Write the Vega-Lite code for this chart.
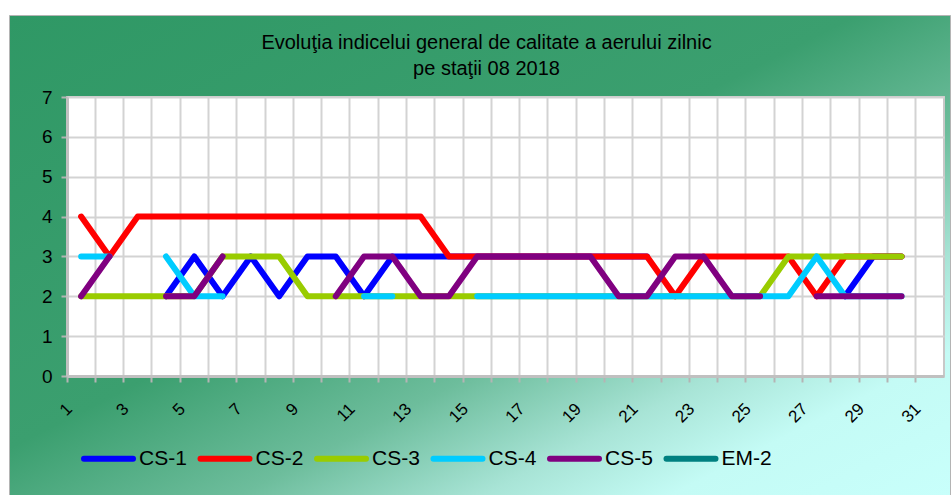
{
  "$schema": "https://vega.github.io/schema/vega-lite/v6.json",
  "background": "white",
  "padding": {"left": 8, "top": 14, "right": 0, "bottom": 0},
  "config": {"font": "Liberation Sans"},
  "datasets": {
    "aqi": [
      {"day": 1, "CS-1": null, "CS-2": 4, "CS-3": 2, "CS-4": 3, "CS-5": 2},
      {"day": 2, "CS-1": null, "CS-2": 3, "CS-3": 2, "CS-4": 3, "CS-5": 3},
      {"day": 3, "CS-1": null, "CS-2": 4, "CS-3": 2, "CS-4": null, "CS-5": null},
      {"day": 4, "CS-1": 2, "CS-2": 4, "CS-3": 2, "CS-4": 3, "CS-5": 2},
      {"day": 5, "CS-1": 3, "CS-2": 4, "CS-3": 2, "CS-4": 2, "CS-5": 2},
      {"day": 6, "CS-1": 2, "CS-2": 4, "CS-3": 3, "CS-4": 2, "CS-5": 3},
      {"day": 7, "CS-1": 3, "CS-2": 4, "CS-3": 3, "CS-4": null, "CS-5": null},
      {"day": 8, "CS-1": 2, "CS-2": 4, "CS-3": 3, "CS-4": null, "CS-5": null},
      {"day": 9, "CS-1": 3, "CS-2": 4, "CS-3": 2, "CS-4": null, "CS-5": null},
      {"day": 10, "CS-1": 3, "CS-2": 4, "CS-3": 2, "CS-4": null, "CS-5": 2},
      {"day": 11, "CS-1": 2, "CS-2": 4, "CS-3": 2, "CS-4": 2, "CS-5": 3},
      {"day": 12, "CS-1": 3, "CS-2": 4, "CS-3": 2, "CS-4": 2, "CS-5": 3},
      {"day": 13, "CS-1": 3, "CS-2": 4, "CS-3": 2, "CS-4": null, "CS-5": 2},
      {"day": 14, "CS-1": 3, "CS-2": 3, "CS-3": 2, "CS-4": null, "CS-5": 2},
      {"day": 15, "CS-1": 3, "CS-2": 3, "CS-3": 2, "CS-4": 2, "CS-5": 3},
      {"day": 16, "CS-1": 3, "CS-2": 3, "CS-3": 2, "CS-4": 2, "CS-5": 3},
      {"day": 17, "CS-1": 3, "CS-2": 3, "CS-3": 2, "CS-4": 2, "CS-5": 3},
      {"day": 18, "CS-1": 3, "CS-2": 3, "CS-3": 2, "CS-4": 2, "CS-5": 3},
      {"day": 19, "CS-1": 3, "CS-2": 3, "CS-3": 2, "CS-4": 2, "CS-5": 3},
      {"day": 20, "CS-1": 3, "CS-2": 3, "CS-3": 2, "CS-4": 2, "CS-5": 2},
      {"day": 21, "CS-1": 3, "CS-2": 3, "CS-3": 2, "CS-4": 2, "CS-5": 2},
      {"day": 22, "CS-1": null, "CS-2": 2, "CS-3": 2, "CS-4": 2, "CS-5": 3},
      {"day": 23, "CS-1": null, "CS-2": 3, "CS-3": 2, "CS-4": 2, "CS-5": 3},
      {"day": 24, "CS-1": null, "CS-2": 3, "CS-3": 2, "CS-4": 2, "CS-5": 2},
      {"day": 25, "CS-1": null, "CS-2": 3, "CS-3": 2, "CS-4": 2, "CS-5": 2},
      {"day": 26, "CS-1": null, "CS-2": 3, "CS-3": 3, "CS-4": 2, "CS-5": null},
      {"day": 27, "CS-1": null, "CS-2": 2, "CS-3": 3, "CS-4": 3, "CS-5": 2},
      {"day": 28, "CS-1": 2, "CS-2": 3, "CS-3": 3, "CS-4": 2, "CS-5": 2},
      {"day": 29, "CS-1": 3, "CS-2": 3, "CS-3": 3, "CS-4": 2, "CS-5": 2},
      {"day": 30, "CS-1": 3, "CS-2": 3, "CS-3": 3, "CS-4": 2, "CS-5": 2}
    ]
  },
  "columns": 1,
  "align": "none",
  "spacing": -465,
  "resolve": {"scale": {"color": "independent"}, "legend": {"color": "independent"}},
  "concat": [
    {
      "width": 941,
      "height": 481,
      "view": {
        "fill": {
          "gradient": "linear",
          "x1": 0, "y1": 0, "x2": 1, "y2": 1,
          "stops": [
            {"offset": 0, "color": "#2f9865"},
            {"offset": 0.45, "color": "#3b9f6f"},
            {"offset": 0.62, "color": "#6dbd9c"},
            {"offset": 0.75, "color": "#a8e4d6"},
            {"offset": 0.85, "color": "#c4fbf5"},
            {"offset": 1, "color": "#c8fffb"}
          ]
        },
        "stroke": "#b4b4b4",
        "strokeWidth": 1
      },
      "data": {"values": [{"blank": ""}]},
      "mark": {"type": "text", "text": ""}
    },
    {
      "columns": 2,
      "align": "none",
      "spacing": 30,
      "resolve": {"scale": {"color": "independent"}, "legend": {"color": "independent"}},
      "concat": [
        {
          "width": 1,
          "height": 1,
          "view": {"fill": null, "stroke": null},
          "data": {"values": [{"blank": ""}]},
          "mark": {"type": "text", "text": ""}
        },
        {
          "width": 877,
          "height": 279,
          "title": {
            "text": ["Evoluţia indicelui general de calitate a aerului zilnic", "pe staţii 08 2018"],
            "fontSize": 20,
            "fontWeight": "normal",
            "color": "#000000",
            "lineHeight": 26,
            "offset": 9,
            "dx": -19,
            "anchor": "middle"
          },
          "view": {"fill": "white", "stroke": "#c8c8c8", "strokeWidth": 2},
          "data": {"name": "aqi"},
          "transform": [{"fold": ["CS-1", "CS-2", "CS-3", "CS-4", "CS-5"], "as": ["station", "v"]}],
          "mark": {"type": "line", "strokeWidth": 6, "strokeCap": "round", "strokeJoin": "round", "invalid": "break-paths-show-domains"},
          "encoding": {
            "x": {
              "field": "day",
              "type": "ordinal",
              "scale": {"type": "band", "domain": [1,2,3,4,5,6,7,8,9,10,11,12,13,14,15,16,17,18,19,20,21,22,23,24,25,26,27,28,29,30,31], "paddingInner": 0, "paddingOuter": 0},
              "axis": {
                "title": null,
                "bandPosition": 0,
                "labelExpr": "datum.value % 2 == 1 ? datum.label : ''",
                "labelAngle": -45,
                "labelAlign": "right",
                "labelBaseline": "middle",
                "labelPadding": 24,
                "labelOffset": -11.6,
                "labelFontSize": 17,
                "labelColor": "#000000",
                "labelOverlap": false,
                "labelBound": false,
                "grid": true,
                "gridColor": "#d3d3d3",
                "gridWidth": 2,
                "domainColor": "#c0c0c0",
                "domainWidth": 3,
                "tickColor": "#b4b4b4",
                "tickSize": 6,
                "tickWidth": 2
              }
            },
            "y": {
              "field": "v",
              "type": "quantitative",
              "scale": {"domain": [0, 7], "nice": false},
              "axis": {
                "title": null,
                "values": [0, 1, 2, 3, 4, 5, 6, 7],
                "labelFontSize": 19,
                "labelColor": "#000000",
                "labelPadding": 9,
                "grid": true,
                "gridColor": "#d3d3d3",
                "gridWidth": 2,
                "domainColor": "#c0c0c0",
                "domainWidth": 3,
                "tickColor": "#b4b4b4",
                "tickSize": 6,
                "tickWidth": 2,
                "minExtent": 10
              }
            },
            "color": {
              "field": "station",
              "type": "nominal",
              "scale": {
                "domain": ["CS-1", "CS-2", "CS-3", "CS-4", "CS-5", "EM-2"],
                "range": ["#0000ff", "#ff0000", "#99cc00", "#00ccff", "#800080", "#008080"]
              },
              "legend": {
                "orient": "none",
                "legendX": 14,
                "legendY": 334,
                "direction": "horizontal",
                "columns": 6,
                "title": null,
                "symbolType": "stroke",
                "symbolStrokeWidth": 6,
                "symbolSize": 2401,
                "labelFontSize": 21,
                "labelColor": "#000000",
                "labelOffset": 3,
                "columnPadding": 1.5,
                "padding": 0,
                "labelLimit": 200,
                "encode": {"symbols": {"update": {"strokeCap": {"value": "round"}}}}
              }
            }
          }
        }
      ]
    }
  ]
}
